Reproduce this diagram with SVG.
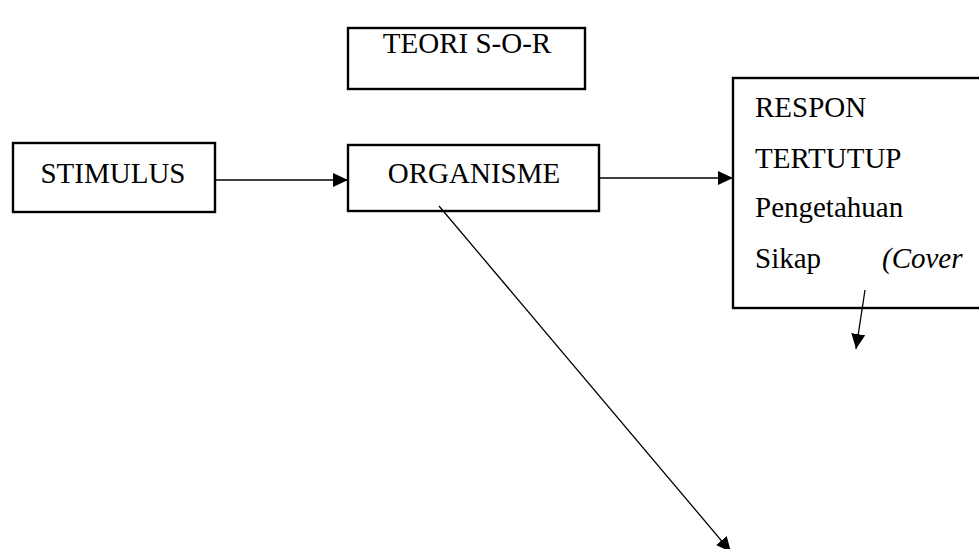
<svg xmlns="http://www.w3.org/2000/svg" width="979" height="549" viewBox="0 0 979 549">
  <style>
    .box { fill: #ffffff; stroke: #000000; stroke-width: 2.4; }
    .lbl { font-family: "Liberation Serif", "Times New Roman", serif; font-size: 29px; fill: #000000; }
    .mid { text-anchor: middle; }
    .conn { stroke: #000000; stroke-width: 1.3; fill: none; marker-end: url(#arrow); }
  </style>
  <defs>
    <marker id="arrow" markerUnits="userSpaceOnUse" markerWidth="16" markerHeight="16" refX="15" refY="7" orient="auto">
      <path d="M0,0 L15,7 L0,14 Z" fill="#000000"/>
    </marker>
  </defs>
  <rect x="0" y="0" width="979" height="549" fill="#ffffff"/>

  <g id="title">
    <rect class="box" x="348" y="28" width="237" height="61"/>
    <text class="lbl mid" x="467" y="53">TEORI S-O-R</text>
  </g>

  <g id="stimulus">
    <rect class="box" x="13" y="143" width="202" height="69"/>
    <text class="lbl mid" x="113" y="183">STIMULUS</text>
  </g>

  <g id="organisme">
    <rect class="box" x="348" y="145" width="251" height="66"/>
    <text class="lbl mid" x="474" y="183">ORGANISME</text>
  </g>

  <g id="respon">
    <rect class="box" x="733" y="78" width="260" height="230"/>
    <text class="lbl" x="755" y="117">RESPON</text>
    <text class="lbl" x="755" y="168">TERTUTUP</text>
    <text class="lbl" x="755" y="217">Pengetahuan</text>
    <text class="lbl" x="755" y="268">Sikap</text>
    <text class="lbl" x="882" y="268" font-style="italic">(Cover</text>
  </g>

  <g id="connectors">
    <line class="conn" x1="216" y1="180" x2="348" y2="180"/>
    <line class="conn" x1="600" y1="178" x2="733" y2="178"/>
    <line class="conn" x1="865" y1="290" x2="856" y2="349"/>
    <line class="conn" x1="439" y1="206" x2="731" y2="552"/>
  </g>
</svg>
